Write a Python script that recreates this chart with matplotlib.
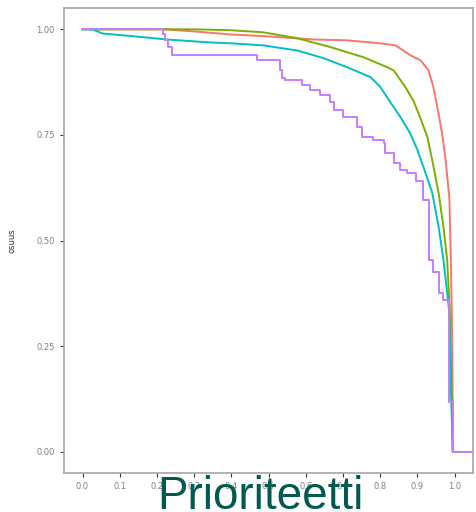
import matplotlib
matplotlib.use("Agg")
from matplotlib import pyplot as plt

# curve data (x = prioriteetti, y = osuus)
red_x = [0.0, 0.22, 0.3, 0.396, 0.485, 0.62, 0.71, 0.80, 0.841, 0.862, 0.88, 0.908, 0.93, 0.943, 0.957, 0.968,
         0.976, 0.986, 0.99, 0.993, 0.996, 1.05]
red_y = [1.0, 1.0, 0.995, 0.988, 0.984, 0.976, 0.974, 0.967, 0.962, 0.95, 0.939, 0.927, 0.903, 0.863, 0.80, 0.745,
         0.69, 0.60, 0.45, 0.30, 0.0, 0.0]

green_x = [0.0, 0.3, 0.396, 0.485, 0.577, 0.666, 0.755, 0.82, 0.836, 0.868, 0.89, 0.908, 0.927, 0.94, 0.957,
           0.97, 0.98, 0.987, 0.995, 1.05]
green_y = [1.0, 1.0, 0.998, 0.993, 0.979, 0.958, 0.934, 0.91, 0.903, 0.863, 0.83, 0.79, 0.745, 0.69, 0.613,
           0.533, 0.455, 0.337, 0.0, 0.0]

cyan_x = [0.0, 0.027, 0.054, 0.12, 0.226, 0.342, 0.396, 0.485, 0.577, 0.647, 0.712, 0.774, 0.80, 0.827, 0.854,
          0.88, 0.90, 0.916, 0.94, 0.957, 0.97, 0.98, 0.985, 0.995, 1.05]
cyan_y = [1.0, 1.0, 0.99, 0.985, 0.976, 0.969, 0.967, 0.962, 0.95, 0.932, 0.91, 0.887, 0.864, 0.828, 0.793,
          0.755, 0.715, 0.675, 0.613, 0.533, 0.455, 0.377, 0.337, 0.0, 0.0]

purple_x = [0.0, 0.216, 0.222, 0.229, 0.24, 0.469, 0.53, 0.537, 0.544, 0.59, 0.612, 0.639, 0.666, 0.675, 0.70,
            0.739, 0.752, 0.78, 0.81, 0.814, 0.838, 0.854, 0.873, 0.895, 0.914, 0.916, 0.93, 0.943, 0.957, 0.968,
            0.985, 0.995, 1.05]
purple_y = [1.0, 0.99, 0.975, 0.957, 0.939, 0.927, 0.903, 0.884, 0.88, 0.868, 0.856, 0.844, 0.828, 0.81, 0.793,
            0.769, 0.745, 0.738, 0.731, 0.707, 0.684, 0.667, 0.66, 0.64, 0.637, 0.597, 0.455, 0.425, 0.377, 0.36,
            0.118, 0.0, 0.0]

series = [
    (red_x, red_y, "#F8766D"),
    (green_x, green_y, "#7CAE00"),
    (cyan_x, cyan_y, "#00BFC4"),
]

x_ticks = [0.0, 0.1, 0.2, 0.3, 0.4, 0.5, 0.6, 0.7, 0.8, 0.9, 1.0]
y_ticks = [0.0, 0.25, 0.5, 0.75, 1.0]

fig = plt.figure(figsize=(4.77, 5.12), dpi=100)
ax = fig.add_axes([0.134, 0.076, 0.858, 0.908])

for xs, ys, col in series:
    ax.plot(xs, ys, color=col, lw=1.4)
ax.step(purple_x, purple_y, where="post", color="#C77CFF", lw=1.4)

ax.set_xlim(-0.05, 1.05)
ax.set_ylim(-0.05, 1.05)
ax.set_xticks(x_ticks)
ax.set_xticklabels([f"{v:.1f}" for v in x_ticks])
ax.set_yticks(y_ticks)
ax.set_yticklabels([f"{v:.2f}" for v in y_ticks])
ax.tick_params(labelsize=6, colors="#333333", labelcolor="#7f7f7f", length=3, width=0.8)

for s in ax.spines.values():
    s.set_color("#a6a6a6")
    s.set_linewidth(1.2)

ax.set_ylabel("osuus", fontsize=6, color="#333333", labelpad=14)

fig.text(0.545, 0.006, "Prioriteetti", fontsize=33, color="#005a50",
         family="Liberation Sans", ha="center", va="baseline")

fig.savefig("out.png", dpi=100)
